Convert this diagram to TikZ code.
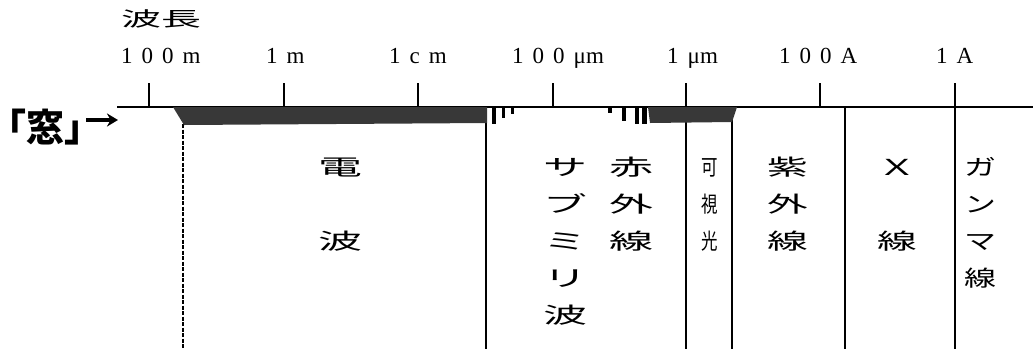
\documentclass[tikz,border=0pt]{standalone}
\usepackage{fontspec}
\usepackage{graphicx}
\usetikzlibrary{arrows.meta}
\newfontfamily\jp{Noto Sans CJK JP}
\newfontfamily\lab{Liberation Serif}
\newcommand\lsp{\kern 9pt}
\newcommand\wcol[2]{\scalebox{#1}[1]{\begin{tabular}[t]{@{}c@{}}#2\end{tabular}}}
\begin{document}
\begin{tikzpicture}[x=1pt,y=-1pt,
  jlab/.style={inner sep=0pt, anchor=base, font=\jp\fontsize{22}{37}\selectfont},
  ticklab/.style={inner sep=0pt, anchor=base west, font=\lab\fontsize{23}{23}\selectfont},
  tickmark/.style={line width=1.3pt},
  divider/.style={line width=1.3pt},
  band/.style={fill=black!78, draw=none},
  speck/.style={fill=black, draw=none}]
\useasboundingbox[fill=white] (0,0) rectangle (1033,349);

% title
\node[inner sep=0pt, font=\jp\fontsize{20}{20}\selectfont] (title) at (161,19) {\scalebox{2}[1]{波長}};

% axis
\coordinate (axL) at (117,107);
\coordinate (axR) at (1033,107);
\draw[line width=2pt] (axL) -- (axR);

% ticks
\foreach \x/\n in {149/a,284/b,418/c,553/d,686/e,820/f,955/g}{
  \coordinate (tk\n) at (\x,83);
  \draw[tickmark] (tk\n) -- (tk\n |- axL);
}

% tick labels
\node[ticklab] (l100m) at (121,63) {1\lsp 0\lsp 0\lsp m};
\node[ticklab] (l1m) at (266,63) {1\lsp m};
\node[ticklab] (l1cm) at (389,63) {1\lsp c\lsp m};
\node[ticklab] (l100um) at (512,63) {1\lsp 0\lsp 0\lsp μm};
\node[ticklab] (l1um) at (667,63) {1\lsp μm};
\node[ticklab] (l100A) at (779,63) {1\lsp 0\lsp 0\lsp A};
\node[ticklab] (l1A) at (936,63) {1\lsp A};

% dividers
\foreach \x/\n in {486/a,686/b,732/c,845/d,955/e}{
  \coordinate (dv\n) at (\x,107);
  \coordinate (dw\n) at (\x,349);
  \draw[divider] (dv\n) -- (dw\n);
}
\coordinate (dsT) at (183,124);
\coordinate (dsB) at (183,349);
\draw[line width=2pt, dash pattern=on 4pt off 1.5pt] (dsT) -- (dsB);

% opaque bands
\fill[band] (173,107) -- (487,107) -- (487,123) -- (184,125) -- cycle;
\fill[band] (648,107) -- (737,107) -- (732,122) -- (650,123) -- cycle;
% absorption specks
\fill[speck] (492,108) rectangle (496,124);
\fill[speck] (502,108) rectangle (505,118);
\fill[speck] (511,108) rectangle (514,114);
\fill[speck] (608,108) rectangle (612,113);
\fill[speck] (622,108) rectangle (626,121);
\fill[speck] (635,108) rectangle (639,124);
\fill[speck] (642,108) rectangle (647,124);

% window label and arrow
\node[inner sep=0pt, font=\jp\bfseries\fontsize{38}{38}\selectfont] (mado) at (46,127) {｢窓｣};
\coordinate (arS) at (86,120);
\coordinate (arE) at (118,120);
\draw[line width=3.5pt, -{Stealth[length=11pt,width=13pt]}] (arS) -- (arE);

% band names
\node[jlab] (radio) at (340,175.4) {\wcol{2}{電\\ \\波}};
\node[jlab] (submm) at (565,175.4) {\wcol{2}{サ\\ブ\\ミ\\リ\\波}};
\node[jlab] (ir) at (631,175.4) {\wcol{2}{赤\\外\\線}};
\node[jlab] (vis) at (710,175.4) {\wcol{0.75}{可\\視\\光}};
\node[jlab] (uv) at (788,175.4) {\wcol{1.85}{紫\\外\\線}};
\node[jlab] (xray) at (897,175.4) {\wcol{1.8}{Ｘ\\ \\線}};
\node[jlab] (gamma) at (980,175.4) {\wcol{1.45}{ガ\\ン\\マ\\線}};
\end{tikzpicture}
\end{document}
